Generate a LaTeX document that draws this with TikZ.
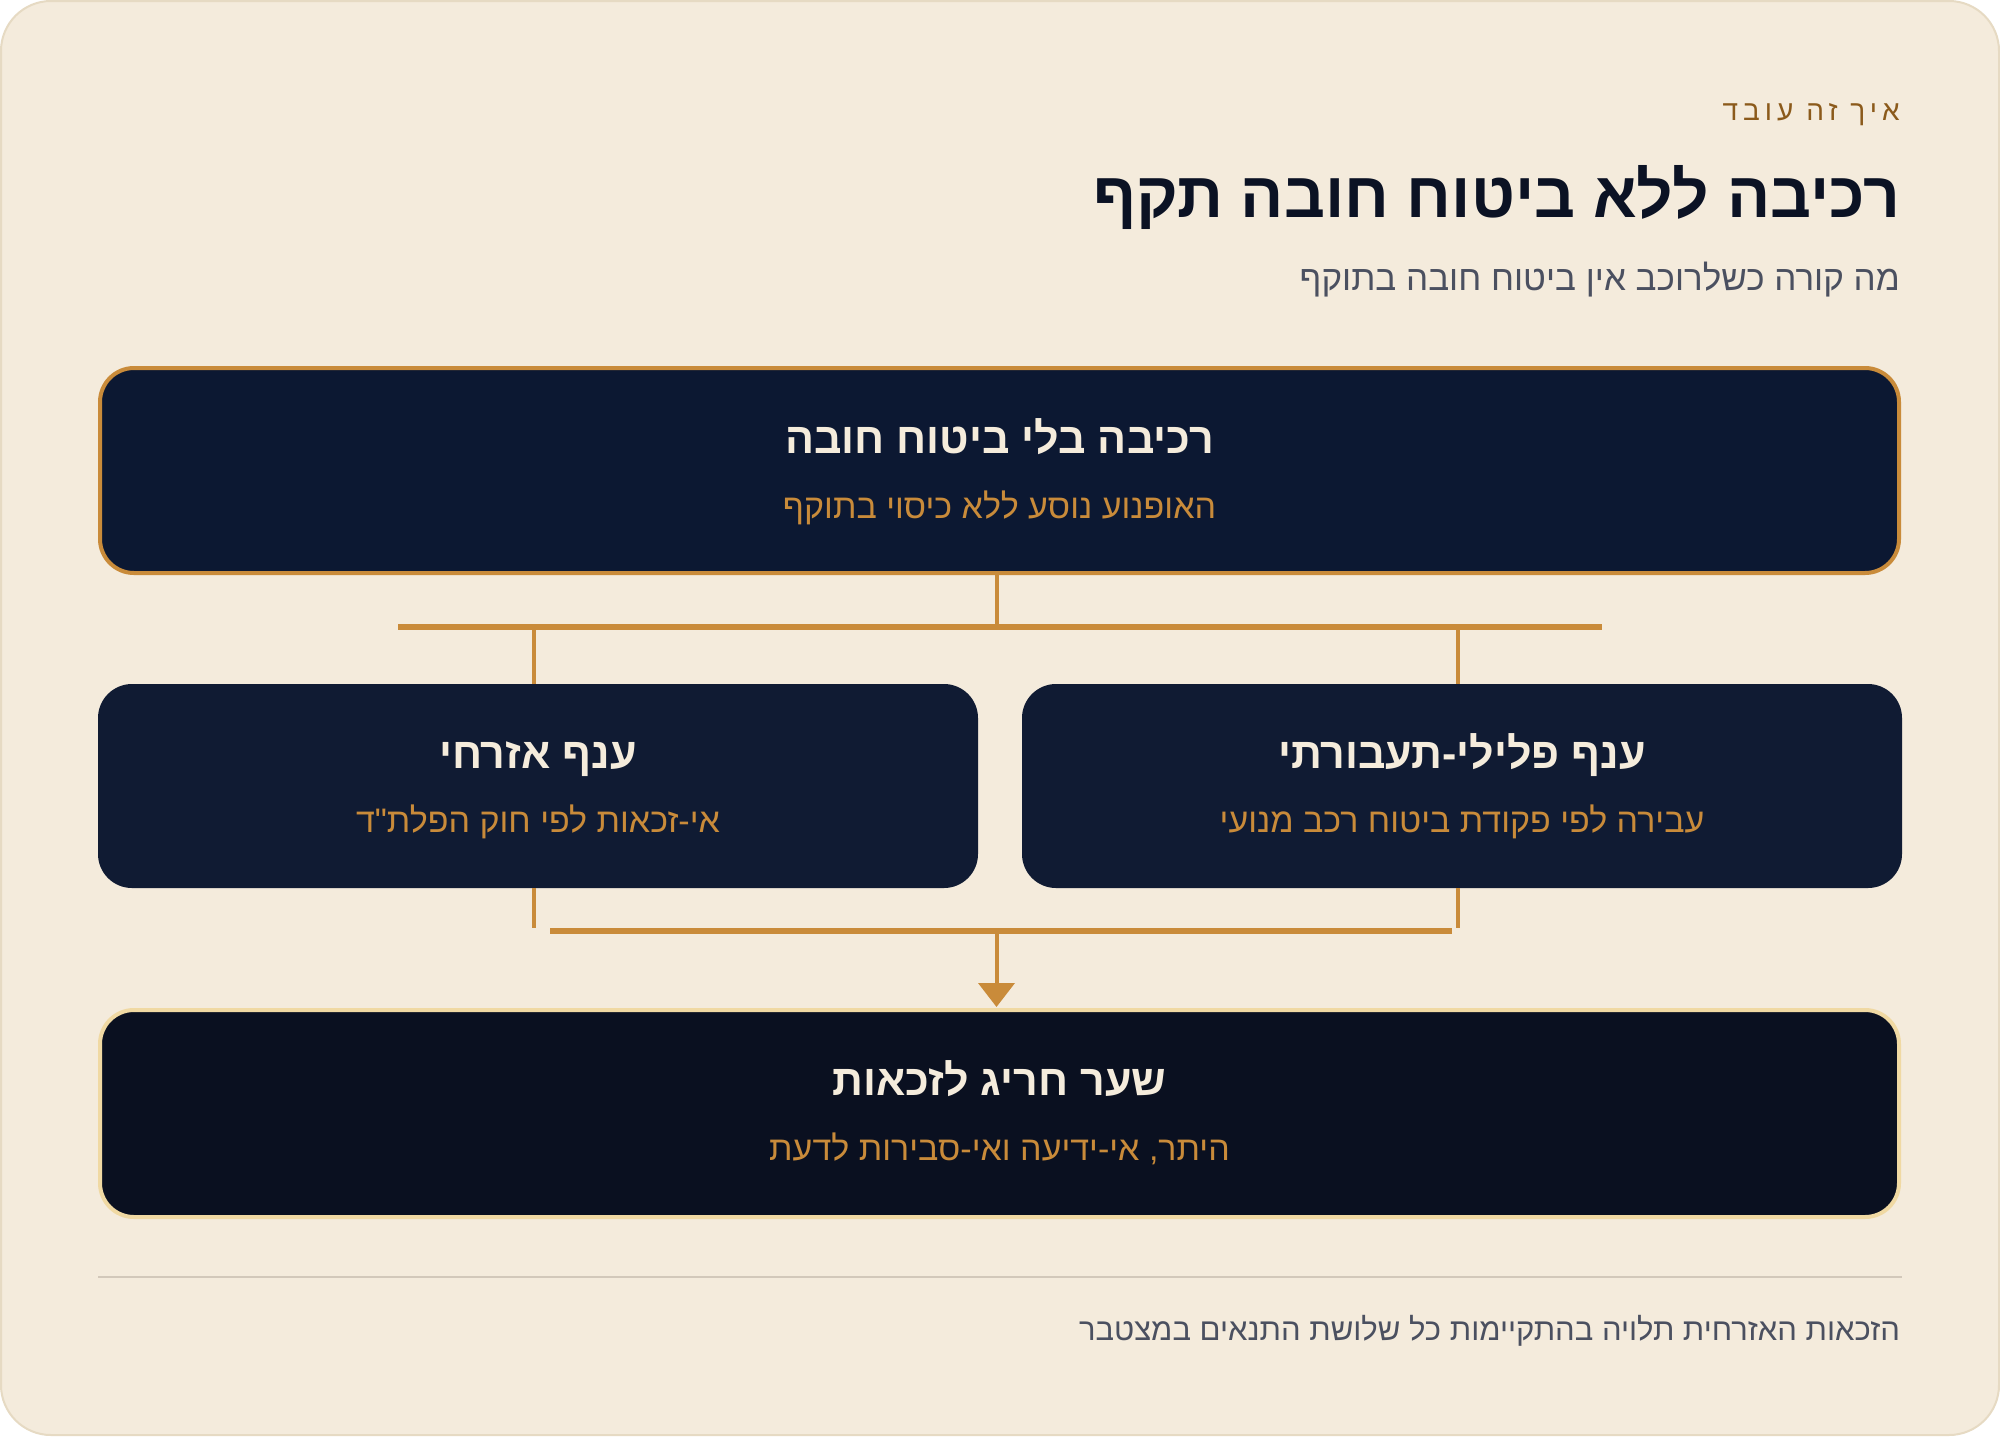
\documentclass[tikz,border=0pt]{standalone}
\usepackage{fontspec}
\usepackage{tikz}
\usetikzlibrary{arrows.meta}
\TeXXeTstate=1
\newfontfamily\hebfont[Script=Hebrew]{Liberation Sans}
\definecolor{pagebg}{HTML}{F4EBDC}
\definecolor{pageedge}{HTML}{E6DAC3}
\definecolor{kickbrown}{HTML}{8B5A1B}
\definecolor{inknavy}{HTML}{0B1224}
\definecolor{slategray}{HTML}{4B5060}
\definecolor{topfill}{HTML}{0C1832}
\definecolor{midfill}{HTML}{101B33}
\definecolor{gatefill}{HTML}{0A1020}
\definecolor{gold}{HTML}{C98B3A}
\definecolor{paleGold}{HTML}{F0D9A3}
\definecolor{cream}{HTML}{F5ECDC}
\definecolor{rulegray}{HTML}{D2C8BA}

\tikzset{
  panel/.style={rounded corners=34pt, inner sep=0pt},
  paneltitle/.style={anchor=base, inner sep=0pt, text=cream, font=\hebfont\bfseries\fontsize{43}{50}\selectfont},
  panelsub/.style={anchor=base, inner sep=0pt, text=gold, font=\hebfont\fontsize{34}{40}\selectfont},
  link/.style={draw=gold, line width=4pt},
  bus/.style={draw=gold, line width=6.5pt}
}

\begin{document}
\begin{tikzpicture}[x=1pt, y=-1pt]
  \useasboundingbox (0,0) rectangle (2000,1436);
  \fill[white] (0,0) rectangle (2000,1436);
  \draw[fill=pagebg, draw=pageedge, line width=2pt, rounded corners=50pt] (1,1) rectangle (1999,1435);

  % header
  \node[anchor=base east, inner sep=0pt, text=kickbrown, font=\hebfont\fontsize{28}{32}\selectfont\addfontfeature{LetterSpace=18}] (kicker) at (1900,120) {\beginR איך זה עובד\endR};
  \node[anchor=base east, inner sep=0pt, text=inknavy, font=\hebfont\bfseries\fontsize{64}{72}\selectfont] (headline) at (1900,217) {\beginR רכיבה ללא ביטוח חובה תקף\endR};
  \node[anchor=base east, inner sep=0pt, text=slategray, font=\hebfont\fontsize{35}{40}\selectfont] (subline) at (1900,290) {\beginR מה קורה כשלרוכב אין ביטוח חובה בתוקף\endR};

  % boxes
  \node[panel, fill=topfill, draw=gold, line width=4pt, minimum width=1799pt, minimum height=205pt] (ride) at (999.5,470.5) {};
  \node[panel, fill=midfill, minimum width=880pt, minimum height=204pt] (civil) at (538,786) {};
  \node[panel, fill=midfill, minimum width=880pt, minimum height=204pt] (crim) at (1462,786) {};
  \node[panel, fill=gatefill, draw=paleGold, line width=4pt, minimum width=1799pt, minimum height=207pt] (gate) at (999.5,1113.5) {};

  \node[paneltitle] (rideT) at ([yshift=17.5pt]ride.center) {\beginR רכיבה בלי ביטוח חובה\endR};
  \node[panelsub] (rideS) at ([yshift=-47.5pt]ride.center) {\beginR האופנוע נוסע ללא כיסוי בתוקף\endR};
  \node[paneltitle] (civilT) at ([yshift=18pt]civil.center) {\beginR ענף אזרחי\endR};
  \node[panelsub] (civilS) at ([yshift=-46pt]civil.center) {\beginR אי-זכאות לפי חוק הפלת"ד\endR};
  \node[paneltitle] (crimT) at ([yshift=18pt]crim.center) {\beginR ענף פלילי-תעבורתי\endR};
  \node[panelsub] (crimS) at ([yshift=-46pt]crim.center) {\beginR עבירה לפי פקודת ביטוח רכב מנועי\endR};
  \node[paneltitle] (gateT) at ([yshift=18.5pt]gate.center) {\beginR שער חריג לזכאות\endR};
  \node[panelsub] (gateS) at ([yshift=-46.5pt]gate.center) {\beginR היתר, אי-ידיעה ואי-סבירות לדעת\endR};

  % connectors
  \coordinate (splitL) at (398,627);
  \coordinate (splitR) at (1602,627);
  \coordinate (joinL) at (550,931);
  \coordinate (joinR) at (1452,931);
  \coordinate (trunk) at (996.5,627);
  \draw[link] (ride.south -| trunk) -- (trunk);
  \draw[bus] (splitL) -- (splitR);
  \draw[link] ([xshift=-4pt]civil.north |- splitL) -- ([xshift=-4pt]civil.north);
  \draw[link] ([xshift=-4pt]crim.north |- splitL) -- ([xshift=-4pt]crim.north);
  \draw[link] ([xshift=-4pt]civil.south) -- ([xshift=-4pt,yshift=3pt]civil.south |- joinL);
  \draw[link] ([xshift=-4pt]crim.south) -- ([xshift=-4pt,yshift=3pt]crim.south |- joinL);
  \draw[bus] (joinL) -- (joinR);
  \draw[link, -{Triangle[width=36pt,length=24pt]}] (trunk |- joinL) -- ([yshift=1pt]gate.north -| trunk);

  % footer
  \draw[rulegray, line width=2pt] (98,1277) -- (1902,1277);
  \node[anchor=base east, inner sep=0pt, text=slategray, font=\hebfont\fontsize{31}{36}\selectfont] (footnote) at (1900,1340) {\beginR הזכאות האזרחית תלויה בהתקיימות כל שלושת התנאים במצטבר\endR};
\end{tikzpicture}
\end{document}
